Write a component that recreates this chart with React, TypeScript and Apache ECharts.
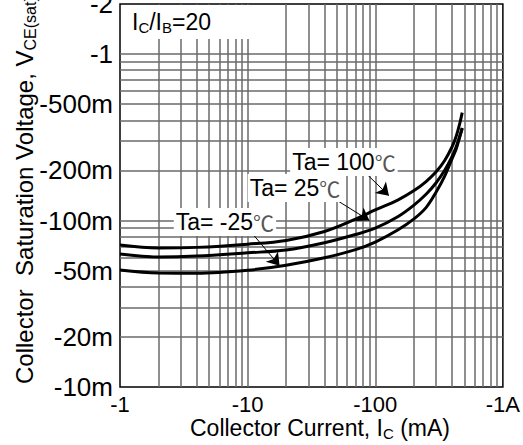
import React, { useEffect, useRef } from 'react';
import * as echarts from 'echarts';

// Collector current (mA, magnitude) and VCE(sat) (V, magnitude)
const currentMA = [1, 2, 4, 10, 20, 40, 70, 100, 150, 200, 250, 300, 350, 400, 430, 460, 480];
const vce100 = [0.0712, 0.0684, 0.069, 0.0721, 0.0759, 0.086, 0.102, 0.1158, 0.1328, 0.1508, 0.1716, 0.1964, 0.2296, 0.2776, 0.32, 0.385, 0.445];
const vce25 = [0.063, 0.0604, 0.0612, 0.064, 0.0665, 0.0736, 0.0824, 0.09, 0.1054, 0.1234, 0.1438, 0.1688, 0.2003, 0.2428, 0.2768, 0.3218, 0.357];
const vceM25 = [0.0504, 0.0484, 0.0483, 0.0503, 0.0539, 0.0598, 0.0669, 0.0743, 0.0878, 0.102, 0.1196, 0.1484, 0.185, 0.2358, 0.268, 0.32, 0.36];

const seriesNames = ['Ta= 100℃', 'Ta= 25℃', 'Ta= -25℃'];
const labelAnchors = [[56.8, 0.2246], [23.5, 0.1567], [6.64, 0.098]];
const arrowFrom = [[85.9, 0.19], [48.3, 0.1346], [10.8, 0.0841]];
const arrowTo = [[128, 0.141], [90, 0.1], [17.8, 0.0535]];

const xTickLabels = ['-1', '-10', '-100', '-1A'];
const yTickValues = [2, 1, 0.5, 0.2, 0.1, 0.05, 0.02, 0.01];
const yTickLabels = ['-2', '-1', '-500m', '-200m', '-100m', '-50m', '-20m', '-10m'];
const xGridValues = [2, 3, 4, 5, 6, 7, 8, 9, 10, 20, 30, 40, 50, 60, 70, 80, 90, 100, 200, 300, 400, 500, 600, 700, 800, 900];
const yGridValues = [0.02, 0.03, 0.04, 0.05, 0.06, 0.07, 0.08, 0.09, 0.1, 0.2, 0.3, 0.4, 0.5, 0.6, 0.7, 0.8, 0.9, 1];

const FONT = '"Liberation Sans", Arial, Helvetica, "Noto Sans CJK SC", sans-serif';
const CJK = '"Noto Sans CJK SC", "Noto Sans CJK JP", sans-serif';

export default function App() {
  const ref = useRef<HTMLDivElement>(null);
  useEffect(() => {
    if (!ref.current) return;
    const chart = echarts.init(ref.current, undefined, { renderer: 'svg' });
    const curveData = [vce100, vce25, vceM25];
    const curves = curveData.map((vals, i) => ({
      type: 'line',
      name: seriesNames[i],
      data: currentMA.map((x, j) => [x, vals[j]]),
      smooth: 0.35,
      showSymbol: false,
      symbol: 'none',
      z: 3,
      lineStyle: { color: '#000', width: 3 },
      silent: true,
      markPoint: {
        silent: true,
        symbol: 'rect',
        symbolSize: 1,
        itemStyle: { color: 'rgba(0,0,0,0)' },
        label: {
          show: true,
          position: 'inside',
          formatter: (p: any) => '{t|' + String(p.name).replace('℃', '') + '}{c|℃}',
          backgroundColor: '#fff',
          padding: [2, 2, 2, 2],
          rich: {
            t: { fontSize: 23, fontFamily: FONT, color: '#000', lineHeight: 24 },
            c: { fontSize: 21, fontFamily: CJK, color: '#555', lineHeight: 24 },
          },
        },
        data: [{ coord: labelAnchors[i], name: seriesNames[i] }],
      },
      markLine: {
        silent: true,
        symbol: ['none', 'arrow'],
        symbolSize: 12,
        label: { show: false },
        lineStyle: { color: '#000', width: 1, type: 'solid' },
        data: [[{ coord: arrowFrom[i] }, { coord: arrowTo[i] }]],
      },
    }));

    const option: any = {
      animation: false,
      backgroundColor: '#fff',
      grid: {
        left: 120,
        right: 20,
        top: 4,
        bottom: 58,
        show: true,
        borderColor: '#000',
        borderWidth: 1.5,
        backgroundColor: 'rgba(0,0,0,0)',
      },
      xAxis: {
        type: 'log',
        logBase: 10,
        min: 1,
        max: 1000,
        axisLine: { show: false },
        axisTick: { show: false },
        splitLine: { show: false },
        axisLabel: {
          fontSize: 22,
          fontFamily: FONT,
          color: '#000',
          margin: 6,
          formatter: (v: number) => xTickLabels[Math.round(Math.log10(v))] ?? '',
        },
      },
      yAxis: {
        type: 'log',
        logBase: 10,
        min: 0.01,
        max: 2,
        axisLine: { show: false },
        axisTick: { show: false },
        splitLine: { show: false },
        axisLabel: { show: false },
      },
      series: [
        {
          type: 'line',
          data: [],
          silent: true,
          z: 1,
          markLine: {
            silent: true,
            z: 1,
            symbol: ['none', 'none'],
            label: { show: false },
            lineStyle: { color: '#6a6a6a', width: 1.5, type: 'solid' },
            data: [
              ...xGridValues.map((v) => ({ xAxis: v })),
              ...yGridValues.map((v) => ({ yAxis: v })),
            ],
          },
        },
        {
          type: 'line',
          data: [],
          silent: true,
          z: 1,
          markLine: {
            silent: true,
            z: 1,
            symbol: ['none', 'none'],
            lineStyle: { color: 'rgba(0,0,0,0)', width: 1, type: 'solid' },
            label: {
              show: true,
              position: 'start',
              distance: 7,
              formatter: '{b}',
              fontSize: 26,
              fontFamily: FONT,
              color: '#000',
            },
            data: yTickValues.map((v, i) => ({ yAxis: v, name: yTickLabels[i] })),
          },
        },
        ...curves,
      ],
      graphic: [
        {
          type: 'rect',
          z: 50,
          shape: { x: 121, y: 5, width: 138, height: 34 },
          style: { fill: '#fff' },
        },
        {
          type: 'text',
          z: 51,
          x: 132,
          y: 22,
          style: {
            text: '{a|I}{s|C}{a|/I}{s|B}{a|=20}',
            verticalAlign: 'middle',
            align: 'left',
            rich: {
              a: { fontSize: 23, fontFamily: FONT, lineHeight: 26, fill: '#000' },
              s: { fontSize: 15, fontFamily: FONT, lineHeight: 12, verticalAlign: 'bottom', fill: '#000' },
            },
          },
        },
        {
          type: 'text',
          z: 51,
          x: 320,
          y: 428,
          style: {
            text: '{a|Collector Current, I}{s|C}{a| (mA)}',
            verticalAlign: 'middle',
            align: 'center',
            rich: {
              a: { fontSize: 23, fontFamily: FONT, lineHeight: 26, fill: '#000' },
              s: { fontSize: 15, fontFamily: FONT, lineHeight: 12, verticalAlign: 'bottom', fill: '#000' },
            },
          },
        },
        {
          type: 'text',
          z: 51,
          x: 24,
          y: 384,
          rotation: Math.PI / 2,
          style: {
            text: '{a|Collector  Saturation Voltage, V}{s|CE(sat)}',
            verticalAlign: 'middle',
            align: 'left',
            rich: {
              a: { fontSize: 24, fontFamily: FONT, lineHeight: 28, fill: '#000' },
              s: { fontSize: 16, fontFamily: FONT, lineHeight: 13, verticalAlign: 'bottom', fill: '#000' },
            },
          },
        },
      ],
    };
    chart.setOption(option);
    return () => chart.dispose();
  }, []);
  return (
    <div
      ref={ref}
      style={{ position: 'fixed', left: 0, top: 0, width: 523, height: 445, background: '#fff' }}
    />
  );
}
